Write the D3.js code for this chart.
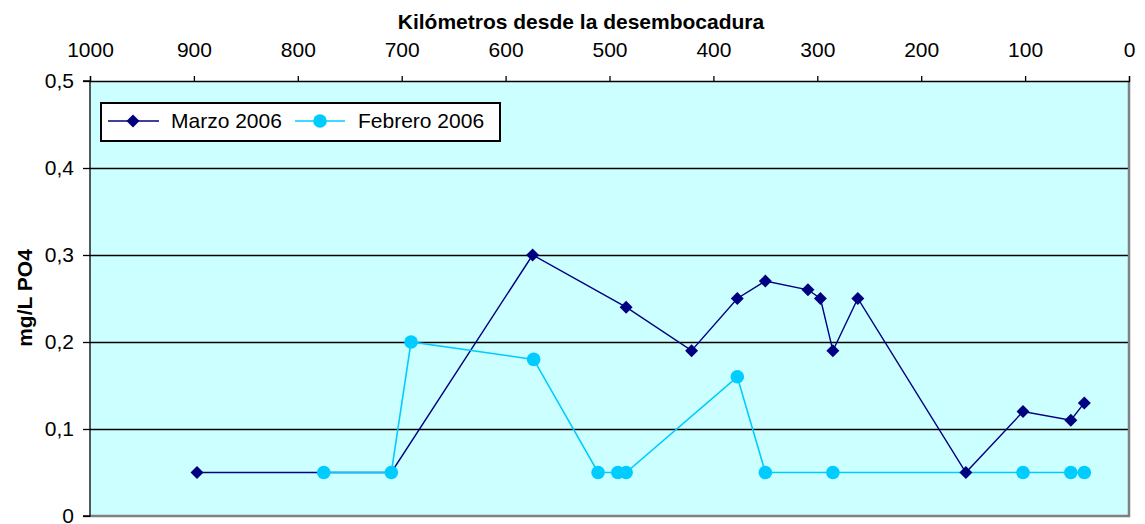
<!DOCTYPE html>
<html>
<head>
<meta charset="utf-8">
<script src="https://cdn.jsdelivr.net/npm/d3@7"></script>
<style>
  body { margin: 0; background: #fff; }
  svg text { font-family: Arial, "Liberation Sans", sans-serif; fill: #000; }
</style>
</head>
<body>
<div id="chart"></div>
<script>
// data
var marzoKm  = [897, 710, 574, 484, 421, 377, 350, 309, 297, 285, 261, 157, 102, 56, 43];
var marzoVal = [0.05, 0.05, 0.30, 0.24, 0.19, 0.25, 0.27, 0.26, 0.25, 0.19, 0.25, 0.05, 0.12, 0.11, 0.13];
var febKm    = [775, 710, 691, 573, 511, 492, 484, 377, 350, 285, 102, 56, 43];
var febVal   = [0.05, 0.05, 0.20, 0.18, 0.05, 0.05, 0.05, 0.16, 0.05, 0.05, 0.05, 0.05, 0.05];
var xTicks = [1000, 900, 800, 700, 600, 500, 400, 300, 200, 100, 0];
var yTicks = [0, 0.1, 0.2, 0.3, 0.4, 0.5];
var seriesNames = ["Marzo 2006", "Febrero 2006"];

var width = 1145, height = 524;
// plot box (window.top is taken, so no "top" here)
var pLeft = 90, pRight = 1129, pTop = 81, pBottom = 516;
var fs = "21px";

var svg = d3.select("#chart").append("svg")
    .attr("width", width)
    .attr("height", height);

var x = d3.scaleLinear().domain([1000, 0]).range([pLeft, pRight]);
var y = d3.scaleLinear().domain([0, 0.5]).range([pBottom, pTop]);

// plot background
svg.append("rect")
    .attr("x", pLeft).attr("y", pTop)
    .attr("width", pRight - pLeft).attr("height", pBottom - pTop)
    .attr("fill", "#CCFFFF");

// gridlines
svg.append("g").selectAll("line")
    .data(yTicks.filter(function(d) { return d > 0 && d < 0.5; }))
    .enter().append("line")
    .attr("x1", pLeft).attr("x2", pRight)
    .attr("y1", function(d) { return Math.round(y(d)) + 0.5; })
    .attr("y2", function(d) { return Math.round(y(d)) + 0.5; })
    .attr("stroke", "#000").attr("stroke-width", 1.3);

// grey frame right + bottom
svg.append("path")
    .attr("d", "M" + pRight + "," + pTop + "V" + pBottom + "H" + pLeft)
    .attr("fill", "none").attr("stroke", "#808080").attr("stroke-width", 2.5);

// axes
var fmt = function(d) { return d === 0 ? "0" : d3.format(".1f")(d).replace(".", ","); };
var yAxis = svg.append("g")
    .attr("transform", "translate(" + pLeft + ",0)")
    .call(d3.axisLeft(y).tickValues(yTicks).tickFormat(fmt).tickSize(7).tickPadding(9));
var xAxis = svg.append("g")
    .attr("transform", "translate(0," + pTop + ")")
    .call(d3.axisTop(x).tickValues(xTicks).tickFormat(d3.format("d")).tickSize(5).tickPadding(19));

[xAxis, yAxis].forEach(function(a) {
    a.select(".domain").attr("stroke", "#000").attr("stroke-width", 1.3);
    a.selectAll(".tick line").attr("stroke", "#000").attr("stroke-width", 1.3);
    a.selectAll(".tick text").attr("font-size", fs).attr("fill", "#000");
});
xAxis.selectAll(".tick text").attr("dy", "0");
yAxis.selectAll(".tick text").attr("dy", "0.33em");
yAxis.select(".domain").attr("d", "M-7," + pBottom + "H0V" + pTop + "H-7");

// titles
svg.append("text")
    .attr("x", 581).attr("y", 29)
    .attr("text-anchor", "middle")
    .attr("font-size", fs).attr("font-weight", "bold")
    .text("Kilómetros desde la desembocadura");

svg.append("text")
    .attr("transform", "translate(32,298) rotate(-90)")
    .attr("text-anchor", "middle")
    .attr("font-size", fs).attr("font-weight", "bold")
    .text("mg/L PO4");

var marzo = marzoKm.map(function(k, i) { return { km: k, v: marzoVal[i] }; });
var feb = febKm.map(function(k, i) { return { km: k, v: febVal[i] }; });

var line = d3.line()
    .x(function(d) { return x(d.km); })
    .y(function(d) { return y(d.v); });

svg.append("path").datum(marzo)
    .attr("d", line).attr("fill", "none")
    .attr("stroke", "#000080").attr("stroke-width", 1.4);
svg.append("path").datum(feb)
    .attr("d", line).attr("fill", "none")
    .attr("stroke", "#00CCFF").attr("stroke-width", 1.6);

var diamond = d3.symbol().type(d3.symbolSquare).size(84);

svg.append("g").selectAll("path")
    .data(marzo).enter().append("path")
    .attr("d", diamond)
    .attr("transform", function(d) { return "translate(" + x(d.km) + "," + y(d.v) + ") rotate(45)"; })
    .attr("fill", "#000080");

svg.append("g").selectAll("circle")
    .data(feb).enter().append("circle")
    .attr("cx", function(d) { return x(d.km); })
    .attr("cy", function(d) { return y(d.v); })
    .attr("r", 6.8)
    .attr("fill", "#00CCFF");

// legend
var lg = svg.append("g");
lg.append("rect")
    .attr("x", 101).attr("y", 103).attr("width", 399).attr("height", 38)
    .attr("fill", "#fff").attr("stroke", "#000").attr("stroke-width", 2);

lg.append("line").attr("x1", 108).attr("x2", 159).attr("y1", 121).attr("y2", 121)
    .attr("stroke", "#000080").attr("stroke-width", 1.4);
lg.append("path").attr("d", diamond)
    .attr("transform", "translate(133,121) rotate(45)").attr("fill", "#000080");
lg.append("text").attr("x", 171).attr("y", 128).attr("font-size", fs).text(seriesNames[0]);

lg.append("line").attr("x1", 295).attr("x2", 345).attr("y1", 121).attr("y2", 121)
    .attr("stroke", "#00CCFF").attr("stroke-width", 1.6);
lg.append("circle").attr("cx", 320).attr("cy", 121).attr("r", 6.8).attr("fill", "#00CCFF");
lg.append("text").attr("x", 358).attr("y", 128).attr("font-size", fs).text(seriesNames[1]);
</script>
</body>
</html>
